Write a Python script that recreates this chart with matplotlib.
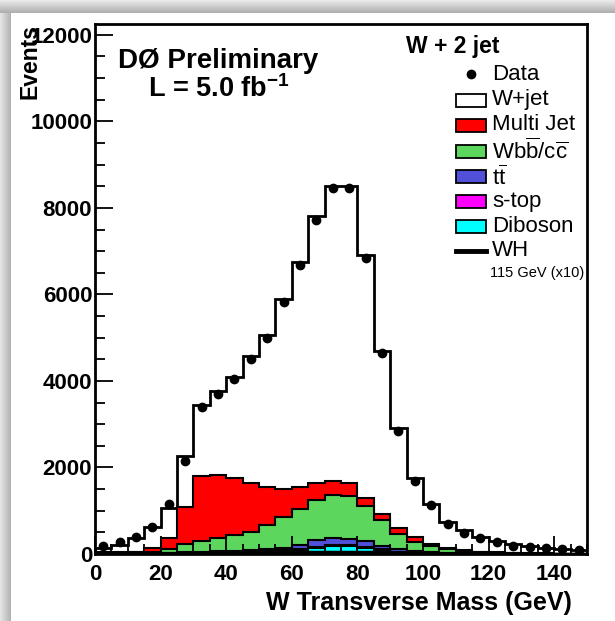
import numpy as np
import matplotlib
matplotlib.use("Agg")
import matplotlib.pyplot as plt
from matplotlib.patches import Rectangle
from matplotlib.ticker import MultipleLocator

plt.rcParams['font.family'] = ['Liberation Sans', 'DejaVu Sans']
plt.rcParams['mathtext.fontset'] = 'custom'
plt.rcParams['mathtext.rm'] = 'Liberation Sans'
plt.rcParams['mathtext.bf'] = 'Liberation Sans:bold'

# W transverse mass, 5 GeV bins from 0 to 150
edges = np.arange(0, 155, 5)
data = [185, 280, 390, 620, 1150, 2150, 3400, 3700, 4050, 4500,
        5000, 5830, 6670, 7730, 8470, 8470, 6850, 4650, 2850, 1690,
        1130, 690, 490, 370, 280, 185, 160, 140, 115, 90]
wjet = [95, 175, 325, 475, 695, 1180, 1650, 1940, 2340, 2950,
        3520, 4400, 5190, 6190, 6810, 6870, 5600, 3780, 2320, 1370,
        920, 590, 460, 345, 265, 195, 162, 136, 110, 92]
multijet = [25, 10, 10, 100, 250, 860, 1500, 1460, 1320, 1110,
            880, 640, 500, 380, 330, 280, 190, 130, 130, 105,
            55, 30, 20, 10, 10, 10, 8, 6, 4, 3]
wbb = [12, 17, 24, 34, 95, 192, 253, 310, 369, 436,
       562, 710, 838, 930, 990, 1000, 810, 605, 360, 225,
       148, 97, 56, 31, 19, 10, 6, 6, 4, 4]
ttbar = [2, 2, 3, 5, 8, 12, 15, 20, 25, 30,
         40, 60, 90, 155, 170, 150, 140, 70, 55, 29,
         18, 10, 6, 4, 2, 2, 1, 1, 1, 0]
stop = [1, 1, 2, 3, 5, 8, 10, 12, 14, 16,
        18, 20, 22, 25, 25, 25, 20, 15, 10, 6,
        4, 3, 2, 1, 1, 1, 1, 0, 0, 0]
diboson = [5, 5, 6, 8, 12, 18, 22, 28, 32, 38,
           50, 70, 100, 140, 175, 175, 140, 100, 45, 25,
           15, 10, 6, 4, 3, 2, 2, 1, 1, 1]
wh_x10 = [1, 1, 2, 3, 5, 8, 12, 16, 20, 25,
          30, 35, 40, 45, 50, 50, 45, 35, 25, 15,
          10, 6, 4, 3, 2, 1, 1, 1, 0, 0]

layers = [diboson, stop, ttbar, wbb, multijet, wjet]
colors = ['#00ffff', '#ff00ff', '#5050d8', '#5cd65c', '#ff0000', 'white']
labels = ['Data', 'W+jet', 'Multi Jet', r'Wb$\overline{\mathrm{b}}$/c$\overline{\mathrm{c}}$',
          r't$\overline{\mathrm{t}}$', 's-top', 'Diboson', 'WH']

W, H = 615, 621
fig = plt.figure(figsize=(W / 100, H / 100), dpi=100)

# grey shadow strips on top and left
top = fig.add_axes([0, 1 - 13 / H, 1, 13 / H])
top.imshow(np.linspace(0.92, 0.68, 20)[:, None] * np.ones((1, 2)), cmap='gray',
           vmin=0, vmax=1, aspect='auto')
top.axis('off')
left = fig.add_axes([0, 0, 10 / W, 1 - 13 / H])
left.imshow(np.linspace(0.9, 0.7, 20)[None, :] * np.ones((2, 1)), cmap='gray',
            vmin=0, vmax=1, aspect='auto')
left.axis('off')

ax = fig.add_axes([95 / W, 1 - 554 / H, 492 / W, 530 / H])

cum = np.cumsum(np.array(layers, dtype=float), axis=0)
for i in reversed(range(len(layers))):
    ax.stairs(cum[i], edges, fill=True, facecolor=colors[i], edgecolor='black',
              lw=2.0 if i == len(layers) - 1 else 1.5)
ax.stairs(wh_x10, edges, color='black', lw=2.5)

centers = 0.5 * (edges[:-1] + edges[1:])
ax.errorbar(centers, data, yerr=np.sqrt(data), fmt='o', color='black', ms=6,
            elinewidth=1, capsize=0, zorder=5)

ax.set_xlim(0, 150)
ax.set_ylim(0, 12250)
ax.set_xticks(range(0, 141, 20))
ax.set_yticks(range(0, 12001, 2000))
ax.xaxis.set_minor_locator(MultipleLocator(5))
ax.yaxis.set_minor_locator(MultipleLocator(500))
ax.tick_params(which='both', direction='in', top=False, right=False, width=1.3,
               labelsize=16)
ax.tick_params(which='major', length=13)
ax.tick_params(which='minor', length=7)
ax.tick_params(axis='x', pad=7)
ax.tick_params(axis='y', pad=2)
for lbl in ax.get_xticklabels() + ax.get_yticklabels():
    lbl.set_fontweight('bold')
for s in ax.spines.values():
    s.set_linewidth(2)

ax.set_xlabel('W Transverse Mass (GeV)', fontsize=18, fontweight='bold', loc='right')
ax.xaxis.set_label_coords(0.97, -0.07)
ax.set_ylabel('Events', fontsize=16.5, fontweight='bold', loc='top')
ax.yaxis.set_label_coords(-0.108, 1.0)

def ay(py):
    return (554 - py) / 530

ax.text(0.047, ay(61), 'DØ Preliminary', transform=ax.transAxes, fontsize=20,
        fontweight='bold', va='center', ha='left')
ax.text(0.108, ay(89), r'L = 5.0 fb$^{\mathbf{-1}}$', transform=ax.transAxes,
        fontsize=19.5, fontweight='bold', va='center', ha='left')
ax.text(0.632, ay(47), 'W + 2 jet', transform=ax.transAxes, fontsize=16.5,
        fontweight='bold', va='center', ha='left')

# legend drawn by hand, ROOT style
rows = [74, 100, 125, 151, 176, 201, 226, 251]
bx0, bx1 = 361 / 492, 391 / 492
bh = 13 / 530
for k, (lab, py) in enumerate(zip(labels, rows)):
    yc = ay(py)
    if k == 0:
        ax.plot([(bx0 + bx1) / 2], [yc], 'o', color='black', ms=6,
                transform=ax.transAxes, clip_on=False)
    elif k == len(labels) - 1:
        ax.plot([bx0, bx1], [yc, yc], color='black', lw=3.5,
                transform=ax.transAxes, clip_on=False)
    else:
        ax.add_patch(Rectangle((bx0, yc - bh / 2), bx1 - bx0, bh,
                               facecolor=colors[len(layers) - k], edgecolor='black',
                               lw=1.3, transform=ax.transAxes, clip_on=False))
    ty = yc - (2 / 530 if k == 4 else 0)
    ax.text(0.807, ty, lab, transform=ax.transAxes, fontsize=16, va='center',
            ha='left')
ax.text(0.803, ay(273), '115 GeV (x10)', transform=ax.transAxes, fontsize=10.5,
        va='center', ha='left')

fig.savefig('out.png', dpi=100)
